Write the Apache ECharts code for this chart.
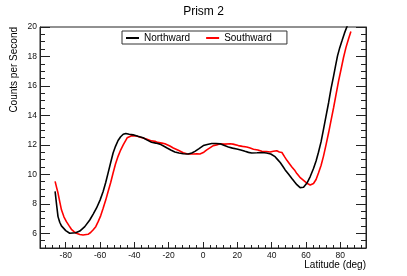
<!DOCTYPE html>
<html>
<head>
<meta charset="utf-8">
<script src="https://cdn.jsdelivr.net/npm/echarts@6/dist/echarts.min.js"></script>
<style>html,body{margin:0;padding:0;background:#fff}#c{width:407px;height:276px}</style>
</head>
<body>
<div id="c"></div>
<script>
var northLat = [-86.2,-85.3,-84.5,-83.5,-82.5,-80,-77.7,-74.2,-71.8,-68.9,-66,-64,-62.1,-60,-58.2,-56.7,-55.3,-53.8,-52.4,-51,-49.5,-48,-46.5,-45,-43,-40.7,-38,-34.9,-32.5,-30,-27.5,-25.1,-23,-21.2,-18.8,-16.4,-14,-11.5,-8.6,-6.5,-4.7,-2.3,0.2,2.5,5.1,7.5,10,12.5,14.8,17.2,19.7,22,24.5,26.5,28.4,31.5,34.3,37,39.5,42,43.5,45,46.5,47.9,49.8,51.8,53.3,54.7,56.6,58.6,60.6,62.5,64.4,65.9,67.3,68.8,70.2,71.7,73.2,74.6,76.1,77.3,78.4,79.7,81,82.5,84,84.8];
var northVal = [8.84,7.9,7.13,6.75,6.5,6.18,6.0,6.04,6.15,6.45,6.9,7.3,7.7,8.25,8.84,9.45,10.1,10.8,11.45,11.9,12.3,12.55,12.72,12.77,12.72,12.68,12.58,12.48,12.32,12.18,12.12,12.05,11.92,11.8,11.65,11.52,11.45,11.4,11.38,11.45,11.56,11.75,11.95,12.03,12.09,12.09,12.07,11.95,11.86,11.78,11.72,11.65,11.56,11.49,11.45,11.46,11.48,11.45,11.38,11.2,11.0,10.8,10.55,10.3,10.02,9.72,9.5,9.3,9.1,9.12,9.41,9.85,10.4,10.9,11.5,12.2,13.04,13.95,14.86,15.8,16.67,17.4,18.04,18.6,19.06,19.6,20.05,20.3];
var southLat = [-86.2,-85.3,-84.5,-83.5,-82.5,-81,-79.6,-78,-76.7,-75,-73.8,-71.8,-69.9,-67,-65.5,-64.1,-62.5,-61.1,-59.6,-58.2,-56.7,-55.3,-53.8,-52.4,-51,-49.5,-48,-46.5,-44.2,-41.6,-38.7,-36.5,-33,-30,-28,-26.5,-24,-22.2,-19.3,-17.3,-14.4,-11.5,-9.5,-7.6,-5.7,-3.5,-1.8,0.5,2.2,4,6,8,9.9,12.5,15.8,17.5,20.6,23,25.5,27.5,29.4,32,34.3,37,39.1,41,43,44.5,46,47.5,48.9,50.5,51.8,53.3,54.7,56.5,58.6,60.5,62.5,64.4,65.9,67.3,68.8,70.2,71.7,73.2,74.6,76.1,77.5,79,80.5,81.9,83.3,84.8,86.2];
var southVal = [9.52,9.1,8.73,8.15,7.59,7.1,6.79,6.5,6.27,6.1,6.0,5.92,5.88,5.93,6.05,6.22,6.45,6.79,7.2,7.7,8.25,8.84,9.45,10.09,10.7,11.22,11.65,12.0,12.48,12.62,12.6,12.52,12.4,12.27,12.25,12.17,12.12,12.07,11.92,11.79,11.63,11.47,11.4,11.38,11.38,11.4,11.38,11.5,11.66,11.8,11.95,12.0,12.07,12.05,12.08,12.05,11.95,11.9,11.86,11.78,11.7,11.65,11.57,11.55,11.52,11.57,11.6,11.52,11.48,11.2,10.95,10.7,10.5,10.3,10.05,9.8,9.59,9.4,9.28,9.38,9.65,10.09,10.6,11.22,12.0,12.82,13.65,14.52,15.4,16.33,17.15,17.93,18.6,19.18,19.7];
var xTickLabels = [-80,-60,-40,-20,0,20,40,60,80];
var xMinorTicks = [-92,-88,-84,-76,-72,-68,-64,-56,-52,-48,-44,-36,-32,-28,-24,-16,-12,-8,-4,4,8,12,16,24,28,32,36,44,48,52,56,64,68,72,76,84,88,92];
var yTickLabels = [6,8,10,12,14,16,18,20];
var yMinorTicks = [5,5.5,6.5,7,7.5,8.5,9,9.5,10.5,11,11.5,12.5,13,13.5,14.5,15,15.5,16.5,17,17.5,18.5,19,19.5];

function pairs(a, b) { return a.map(function (v, i) { return [v, b[i]]; }); }

var FONT = 'Liberation Sans';
var AX = '#222';
var chart = echarts.init(document.getElementById('c'), null, {renderer: 'canvas'});
function xAxisDef(major) {
  return {
    type: 'value', min: -95, max: 95, position: 'bottom',
    axisLine: {show: major, onZero: false, lineStyle: {color: AX, width: 1}},
    splitLine: {show: false},
    axisTick: {show: true, inside: true, length: major ? 6 : 3, customValues: major ? xTickLabels : xMinorTicks, lineStyle: {color: AX, width: 1}},
    axisLabel: {show: major, customValues: xTickLabels, color: '#111', fontFamily: FONT, fontSize: 8.5, margin: 3}
  };
}
function yAxisDef(major, pos) {
  return {
    type: 'value', min: 5, max: 20, position: pos,
    axisLine: {show: major, onZero: false, lineStyle: {color: AX, width: 1}},
    splitLine: {show: false},
    axisTick: {show: true, inside: true, length: major ? 10 : 5, customValues: major ? yTickLabels : yMinorTicks, lineStyle: {color: AX, width: 1}},
    axisLabel: {show: major && pos === 'left', customValues: yTickLabels, color: '#111', fontFamily: FONT, fontSize: 8.5, margin: 3}
  };
}
chart.setOption({
  animation: false,
  backgroundColor: '#fff',
  title: {text: 'Prism 2', left: 'center', top: 1, textStyle: {fontFamily: FONT, fontSize: 12, fontWeight: 'normal', color: '#000'}},
  grid: {left: 40, right: 41, top: 27, bottom: 28, show: true, borderColor: AX, borderWidth: 1, backgroundColor: 'transparent'},
  legend: {
    left: 122, top: 31, orient: 'horizontal', icon: 'rect', itemWidth: 13, itemHeight: 2, itemGap: 16,
    padding: [2, 15, 1, 4], borderColor: '#333', borderWidth: 1, backgroundColor: '#fff',
    textStyle: {fontFamily: FONT, fontSize: 10, color: '#000'},
    data: ['Northward', 'Southward']
  },
  xAxis: [xAxisDef(true), xAxisDef(false)],
  yAxis: [yAxisDef(true, 'left'), yAxisDef(false, 'left'), yAxisDef(true, 'right'), yAxisDef(false, 'right')],
  graphic: [
    {type: 'text', x: 14.5, y: 27, rotation: Math.PI / 2, style: {text: 'Counts per Second', fontFamily: FONT, fontSize: 10, fill: '#000', align: 'right', verticalAlign: 'middle'}},
    {type: 'text', x: 366, y: 265, style: {text: 'Latitude (deg)', fontFamily: FONT, fontSize: 10, fill: '#000', align: 'right', verticalAlign: 'middle'}}
  ],
  series: [
    {name: 'Northward', type: 'line', xAxisIndex: 0, yAxisIndex: 0, data: pairs(northLat, northVal), showSymbol: false, symbol: 'none', clip: true, lineStyle: {color: '#000', width: 1.6}, itemStyle: {color: '#000'}, z: 3},
    {name: 'Southward', type: 'line', xAxisIndex: 0, yAxisIndex: 0, data: pairs(southLat, southVal), showSymbol: false, symbol: 'none', clip: true, lineStyle: {color: '#ff0000', width: 1.6}, itemStyle: {color: '#ff0000'}, z: 2}
  ]
});
</script>
</body>
</html>
